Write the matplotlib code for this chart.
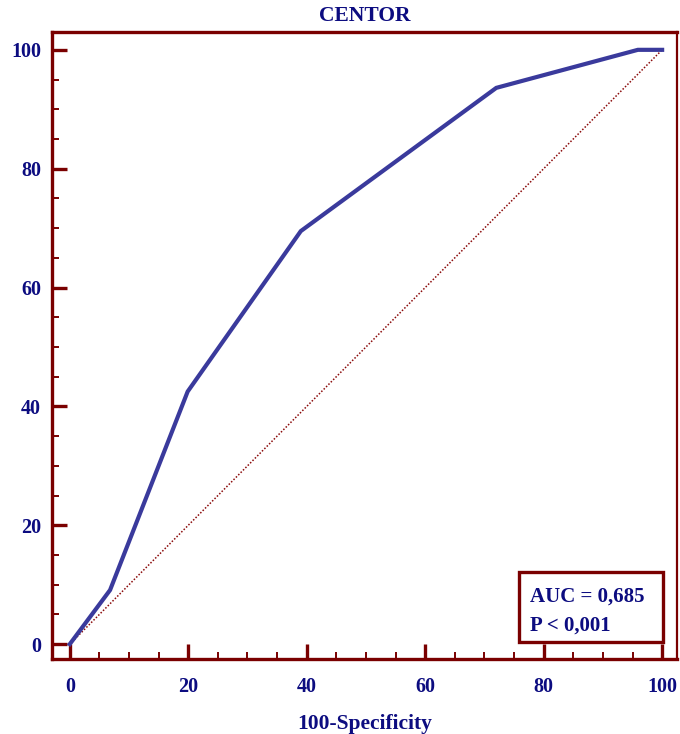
import matplotlib.pyplot as plt
import numpy as np
from matplotlib.patches import Rectangle
from matplotlib.ticker import MultipleLocator

# ROC curve
fpr = [0, 6.8, 19.9, 39.0, 72.0, 95.9, 100]
tpr = [0, 9.1, 42.5, 69.5, 93.6, 100, 100]
diag = [0, 100]
title = "CENTOR"
xlabel = "100-Specificity"
auc_lines = ["AUC = 0,685", "P < 0,001"]

navy = "#0c0c80"
maroon = "#7a0000"
curve = "#3a3a9c"

plt.rcParams["font.family"] = ["Liberation Serif", "DejaVu Serif"]
plt.rcParams["font.weight"] = "bold"

fig = plt.figure(figsize=(6.8, 7.34), dpi=100)
ax = fig.add_axes([0.0765, 0.1022, 0.919, 0.8542])

ax.plot(diag, diag, color="#8a0a0a", lw=1.1, ls=(0, (1, 1.2)))
ax.plot(fpr, tpr, color=curve, lw=3.0, solid_joinstyle="miter")

ax.set_xlim(-3.0, 102.5)
ax.set_ylim(-2.5, 103.0)
ax.xaxis.set_major_locator(MultipleLocator(20))
ax.xaxis.set_minor_locator(MultipleLocator(5))
ax.yaxis.set_major_locator(MultipleLocator(20))
ax.yaxis.set_minor_locator(MultipleLocator(5))

for side in ["left", "bottom", "top"]:
    ax.spines[side].set_linewidth(2.4)
    ax.spines[side].set_color(maroon)
ax.spines["right"].set_linewidth(1.6)
ax.spines["right"].set_color(maroon)

ax.tick_params(which="major", direction="in", length=11, width=2.4, color=maroon,
               labelsize=14.5, labelcolor=navy)
ax.tick_params(which="minor", direction="in", length=5, width=1.4, color=maroon)
ax.tick_params(axis="x", which="major", pad=13)
ax.tick_params(axis="y", which="major", pad=8)
ax.tick_params(top=False, right=False, which="both")

ax.set_title(title, color=navy, fontsize=15.5, fontweight="bold", pad=8)
ax.set_xlabel(xlabel, color=navy, fontsize=15.5, fontweight="bold", labelpad=12)

# AUC box
ax.add_patch(Rectangle((0.747, 0.027), 0.231, 0.112, transform=ax.transAxes,
                       fc="white", ec=maroon, lw=2.4, zorder=5))
for yy, line in zip([0.099, 0.053], auc_lines):
    ax.text(0.765, yy, line, transform=ax.transAxes, ha="left", va="center",
            color=navy, fontsize=15, fontweight="bold", zorder=6)

fig.savefig("out.png", dpi=100)
